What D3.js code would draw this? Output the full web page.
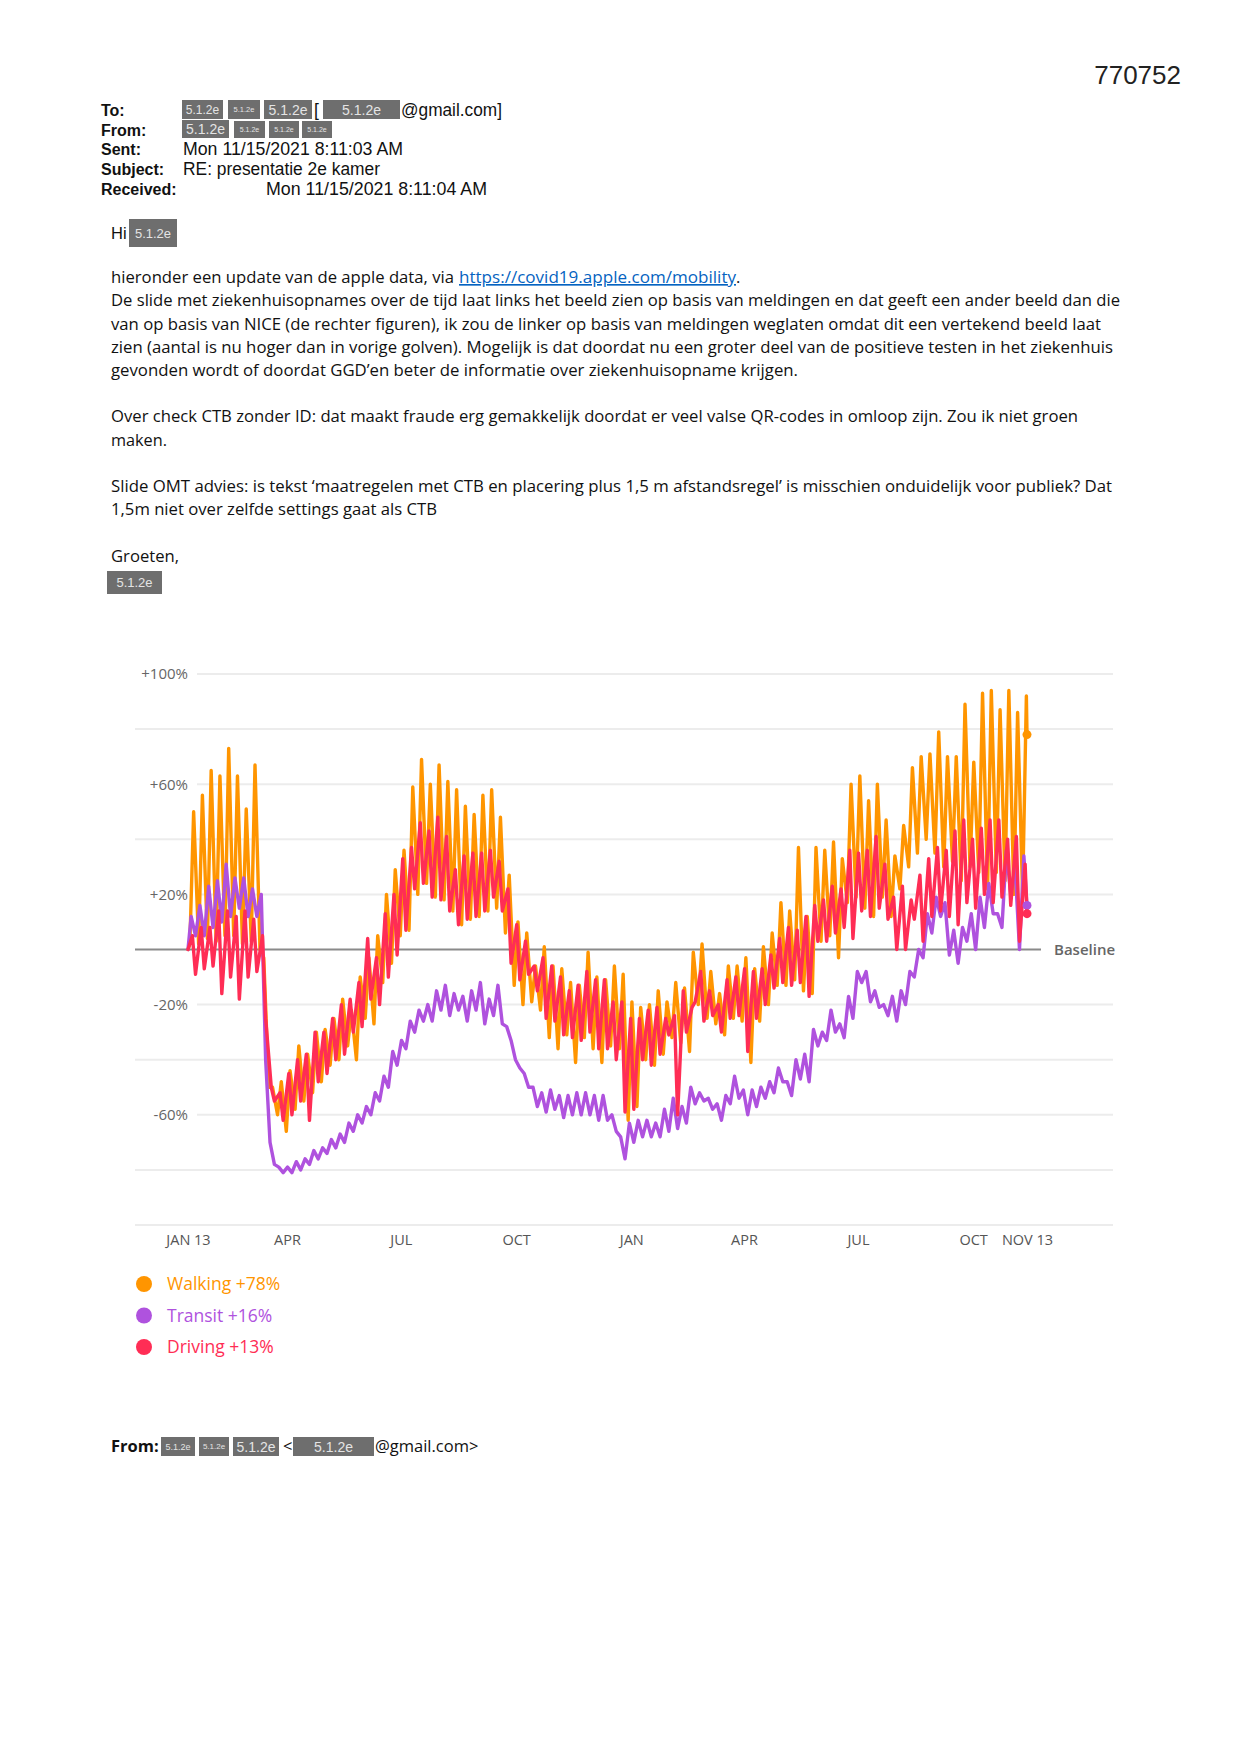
<!DOCTYPE html>
<html><head><meta charset="utf-8">
<script src="https://cdn.jsdelivr.net/npm/d3@7"></script>
<style>body{margin:0;background:#fff}</style>
</head><body>
<svg id="page" width="1241" height="1754"></svg>
<script>
// ---------------- DATA ----------------
const xTickDates  = ["2020-01-13","2020-04-01","2020-07-01","2020-10-01","2021-01-01","2021-04-01","2021-07-01","2021-10-01","2021-11-13"];
const xTickLabels = ["JAN 13","APR","JUL","OCT","JAN","APR","JUL","OCT","NOV 13"];
const yTickValues = [100, 60, 20, -20, -60];
const yTickLabels = ["+100%","+60%","+20%","-20%","-60%"];
const gridValues  = [100, 80, 60, 40, 20, -20, -40, -60, -80, -100];
const firstDate = "2020-01-13";
const lastDate  = "2021-11-13";
const seriesNames  = ["Walking","Transit","Driving"];
const latestValues = [78, 16, 13];

// weekly high / low readings (% change vs baseline), one entry per week from Jan 13 2020
const walkingHigh = [50,56,65,63,73,63,51,67,-3,-50,-48,-44,-35,-38,-30,-29,-25,-18,-22,-10,-3,5,20,29,36,
  59,69,60,67,61,58,52,49,56,58,48,27,10,6,-6,1,-6,-7,-12,-13,-1,-10,-11,-6,-9,
  -19,-21,-20,-15,-19,-12,-14,-1,2,-8,-16,-6,-6,-3,-7,1,6,17,14,37,12,37,36,39,33,
  60,63,54,60,47,34,45,66,70,71,79,70,70,89,68,93,94,87,94,86,92];
const walkingLow = [2,2,4,3,5,5,2,3,0,-50,-60,-66,-58,-55,-52,-48,-42,-40,-35,-40,-25,-27,-12,-5,5,
  7,20,24,19,18,14,9,11,12,14,15,6,-13,-20,-19,-22,-32,-36,-31,-41,-32,-36,-41,-35,-36,
  -62,-57,-40,-42,-38,-32,-34,-37,-20,-25,-27,-31,-25,-26,-41,-26,-20,-13,-13,-11,-15,-16,3,5,-3,
  17,19,15,12,19,12,22,30,35,40,35,30,32,25,30,28,22,28,25,20,20];
const transitHigh = [12,16,23,25,31,26,26,22,20,-70,-79,-79,-77,-76,-73,-72,-69,-67,-63,-60,-57,-52,-46,-37,-33,
  -26,-22,-20,-15,-13,-16,-17,-15,-12,-18,-13,-28,-40,-45,-50,-52,-51,-53,-53,-52,-52,-53,-53,-60,-68,
  -63,-62,-62,-63,-58,-54,-57,-50,-52,-54,-56,-53,-46,-51,-51,-50,-48,-43,-48,-40,-38,-29,-30,-22,-27,
  -17,-8,-8,-15,-20,-17,-15,-8,0,13,19,17,7,8,13,19,24,13,36,30,34];
const transitLow = [5,5,8,10,12,15,12,12,-40,-78,-81,-81,-80,-78,-76,-74,-72,-70,-66,-63,-60,-55,-50,-42,-36,
  -30,-26,-26,-22,-24,-22,-26,-22,-27,-24,-27,-33,-43,-50,-57,-59,-58,-61,-60,-60,-60,-62,-62,-66,-76,
  -70,-68,-68,-68,-66,-65,-63,-56,-55,-58,-62,-56,-54,-60,-57,-54,-52,-48,-53,-47,-48,-35,-33,-30,-32,
  -25,-12,-19,-21,-24,-26,-20,-10,-3,6,12,-2,-5,3,0,8,13,8,20,0,null];
const drivingHigh = [5,8,8,14,14,12,14,11,5,-50,-52,-45,-40,-38,-30,-30,-25,-20,-18,-12,4,-3,13,20,33,
  37,46,43,48,41,29,34,35,35,36,32,22,9,3,-6,-3,-6,-10,-15,-13,-8,-11,-11,-19,-19,
  -25,-25,-22,-21,-25,-24,-15,-21,-8,-15,-20,-11,-10,-7,-8,-7,-2,4,8,7,12,16,18,23,22,
  36,35,36,41,31,19,23,18,27,33,37,36,43,47,40,44,47,47,40,41,31];
const drivingLow = [-9,-7,-6,-16,-10,-18,-10,-8,-25,-55,-62,-60,-55,-62,-48,-45,-40,-38,-30,-28,-18,-20,-10,-2,7,
  22,24,19,18,14,9,11,12,14,19,14,-5,-11,-9,-15,-25,-26,-31,-32,-33,-30,-36,-36,-40,-59,
  -58,-40,-42,-38,-31,-60,-30,-19,-26,-24,-30,-25,-24,-37,-25,-20,-14,-12,-13,-12,-17,3,3,6,8,
  4,14,12,15,11,0,0,11,3,12,14,12,9,17,15,20,17,19,16,3,null];

// day-of-week (days after each Monday) at which the weekly high / low is plotted
const walkingDays = {high: 4.5, low: 1.5};
const transitDays = {high: 2.5, low: 6};
const drivingDays = {high: 3.5, low: 6};

const headerLabels = ["To:","From:","Sent:","Subject:","Received:"];
const sentText = "Mon 11/15/2021 8:11:03 AM";
const subjectText = "RE: presentatie 2e kamer";
const receivedText = "Mon 11/15/2021 8:11:04 AM";
const docNumber = "770752";
const bodyPrefix = "hieronder een update van de apple data, via";
const bodyLink = "https://covid19.apple.com/mobility";
const bodyLines = [
  "De slide met ziekenhuisopnames over de tijd laat links het beeld zien op basis van meldingen en dat geeft een ander beeld dan die",
  "van op basis van NICE (de rechter figuren), ik zou de linker op basis van meldingen weglaten omdat dit een vertekend beeld laat",
  "zien (aantal is nu hoger dan in vorige golven). Mogelijk is dat doordat nu een groter deel van de positieve testen in het ziekenhuis",
  "gevonden wordt of doordat GGD\u2019en beter de informatie over ziekenhuisopname krijgen.",
  "Over check CTB zonder ID: dat maakt fraude erg gemakkelijk doordat er veel valse QR-codes in omloop zijn. Zou ik niet groen",
  "maken.",
  "Slide OMT advies: is tekst \u2018maatregelen met CTB en placering plus 1,5 m afstandsregel\u2019 is misschien onduidelijk voor publiek? Dat",
  "1,5m niet over zelfde settings gaat als CTB",
  "Groeten,"
];
const redactText = "5.1.2e";

// ---------------- LAYOUT ----------------
const svg = d3.select("#page");
svg.append("rect").attr("width",1241).attr("height",1754).attr("fill","#ffffff");

const COL = {Walking:"#FF9500", Transit:"#AF52DE", Driving:"#FF2D55"};
const HFONT = "'Liberation Sans', Arial, sans-serif";
const BFONT = "'Open Sans', 'Noto Sans', sans-serif";

function redact(g, x, y, w, h, fs){
  g.append("rect").attr("x",x).attr("y",y).attr("width",w).attr("height",h).attr("fill","#6e6e6e");
  g.append("text").attr("x",x+w/2).attr("y",y+h/2+fs*0.36).attr("text-anchor","middle")
    .attr("font-family",HFONT).attr("font-size",fs).attr("fill","#e4e4e4").text(redactText);
}
function htext(g, x, yb, t, len){
  const el = g.append("text").attr("x",x).attr("y",yb).attr("font-family",HFONT)
    .attr("font-size",17.5).attr("fill","#111").text(t);
  if(len) el.attr("textLength",len).attr("lengthAdjust","spacingAndGlyphs");
  return el;
}

// document number
svg.append("text").attr("x",1181).attr("y",84).attr("text-anchor","end")
  .attr("font-family",HFONT).attr("font-size",26).attr("fill","#222").text(docNumber);

// header
const hg = svg.append("g");
const rowBase = [115.5,135.5,154.5,174.5,195];
headerLabels.forEach((t,i)=>{
  hg.append("text").attr("x",101).attr("y",rowBase[i]).attr("font-family",HFONT)
    .attr("font-size",16).attr("font-weight","bold").attr("fill","#111").text(t);
});
redact(hg,182,100,41,19,12); redact(hg,228,100,32,19,7.5); redact(hg,264,100,48,19,14);
htext(hg,314,115.5,"[");
redact(hg,323,100,77,19,14);
htext(hg,401,115.5,"@gmail.com]",101);
redact(hg,182,120,47,18,14); redact(hg,234,121,31,17,7); redact(hg,269,121,30,17,7); redact(hg,302,121,30,17,7);
htext(hg,183,154.5,sentText,220);
htext(hg,183,174.5,subjectText,197);
htext(hg,266,195,receivedText,221);

// Hi
hg.append("text").attr("x",111).attr("y",238.5).attr("font-family",HFONT).attr("font-size",16.5).attr("fill","#111").text("Hi");
redact(hg,129,219,48,28,13);

// body text
const bg = svg.append("g").attr("font-family",BFONT).attr("font-size",16.5).attr("fill","#111");
bg.append("text").attr("x",111).attr("y",283).attr("textLength",343).attr("lengthAdjust","spacingAndGlyphs").text(bodyPrefix);
bg.append("text").attr("x",459).attr("y",283).attr("textLength",277).attr("lengthAdjust","spacingAndGlyphs")
  .attr("fill","#0563C1").attr("text-decoration","underline").text(bodyLink);
bg.append("text").attr("x",736).attr("y",283).text(".");
const lineBase = [306,330,353,376,422,446,492,515,562];
const lineEnd  = [1120,1101,1113,798,1078,167,1112,437,179];
bodyLines.forEach((t,i)=>{
  bg.append("text").attr("x",111).attr("y",lineBase[i]).attr("textLength",lineEnd[i]-111)
    .attr("lengthAdjust","spacingAndGlyphs").text(t);
});
redact(svg,107,571,55,23,13);

// ---------------- CHART ----------------
const parse = d3.utcParse("%Y-%m-%d");
const d0 = parse(firstDate), d1 = parse(lastDate);
const x = d3.scaleUtc().domain([d0,d1]).range([188,1027]);
const y = d3.scaleLinear().domain([-100,100]).range([1225,674]);
const DAY = 86400000;
const endDay = Math.round((d1-d0)/DAY);

const cg = svg.append("g");
// gridlines
cg.selectAll("line.grid").data(gridValues).join("line")
  .attr("x1",v=>yTickValues.includes(v)?197:135).attr("x2",1113)
  .attr("y1",v=>y(v)).attr("y2",v=>y(v)).attr("stroke","#ececec").attr("stroke-width",2);
// baseline
cg.append("line").attr("x1",135).attr("x2",1041).attr("y1",y(0)).attr("y2",y(0))
  .attr("stroke","#8a8a8a").attr("stroke-width",2);
cg.append("text").attr("x",1054).attr("y",y(0)+5).attr("font-family",BFONT).attr("font-size",15)
  .attr("font-weight",600).attr("fill","#666").text("Baseline");

// y axis labels
const yAxis = d3.axisLeft(y).tickValues(yTickValues).tickSize(0).tickPadding(0)
  .tickFormat((d,i)=>yTickLabels[i]);
const yg = cg.append("g").attr("transform","translate(188,0)").call(yAxis);
yg.select(".domain").remove();
yg.selectAll("text").attr("font-family",BFONT).attr("font-size",15).attr("fill","#666");

// x axis labels
const xAxis = d3.axisBottom(x).tickValues(xTickDates.map(parse)).tickSize(0).tickPadding(0)
  .tickFormat((d,i)=>xTickLabels[i]);
const xg = cg.append("g").attr("transform","translate(0,1235)").call(xAxis);
xg.select(".domain").remove();
xg.selectAll("text").attr("font-family",BFONT).attr("font-size",14.5).attr("fill","#555");

function build(high, low, days, endVal){
  const pts = [{d:0, v:0}];
  for(let k=0;k<high.length;k++){
    if(low[k]!=null && 7*k+days.low < endDay) pts.push({d:7*k+days.low, v:low[k]});
    if(high[k]!=null && 7*k+days.high < endDay) pts.push({d:7*k+days.high, v:high[k]});
  }
  pts.sort((a,b)=>a.d-b.d);
  pts.push({d:endDay, v:endVal});
  return pts;
}
const series = [
  {name:"Walking", pts: build(walkingHigh, walkingLow, walkingDays, latestValues[0])},
  {name:"Transit", pts: build(transitHigh, transitLow, transitDays, latestValues[1])},
  {name:"Driving", pts: build(drivingHigh, drivingLow, drivingDays, latestValues[2])}
];
const line = d3.line().x(p=>x(new Date(d0.getTime()+p.d*DAY))).y(p=>y(p.v));
series.forEach(s=>{
  cg.append("path").attr("d",line(s.pts)).attr("fill","none").attr("stroke",COL[s.name])
    .attr("stroke-width",3.4).attr("stroke-linejoin","round").attr("stroke-linecap","round");
});
series.forEach(s=>{
  const p = s.pts[s.pts.length-1];
  cg.append("circle").attr("cx",x(d1)).attr("cy",y(p.v)).attr("r",4.5).attr("fill",COL[s.name]);
});

// legend
const lg = svg.append("g");
seriesNames.forEach((n,i)=>{
  const cy = 1284 + i*31.5;
  lg.append("circle").attr("cx",144).attr("cy",cy).attr("r",8).attr("fill",COL[n]);
  lg.append("text").attr("x",167).attr("y",cy+6).attr("font-family",BFONT).attr("font-size",17.5)
    .attr("fill",COL[n]).text(`${n} +${latestValues[i]}%`);
});

// footer
const fg = svg.append("g");
fg.append("text").attr("x",111).attr("y",1452).attr("font-family",BFONT).attr("font-size",16.5)
  .attr("font-weight","bold").attr("fill","#111").text("From:");
redact(fg,161,1437,34,19,9); redact(fg,199,1437,30,19,8); redact(fg,233,1437,46,19,14);
fg.append("text").attr("x",283).attr("y",1452).attr("font-family",BFONT).attr("font-size",16.5).attr("fill","#111").text("<");
redact(fg,293,1437,81,19,14);
fg.append("text").attr("x",375).attr("y",1452).attr("font-family",BFONT).attr("font-size",16.5).attr("fill","#111").text("@gmail.com>");
</script>
</body></html>
